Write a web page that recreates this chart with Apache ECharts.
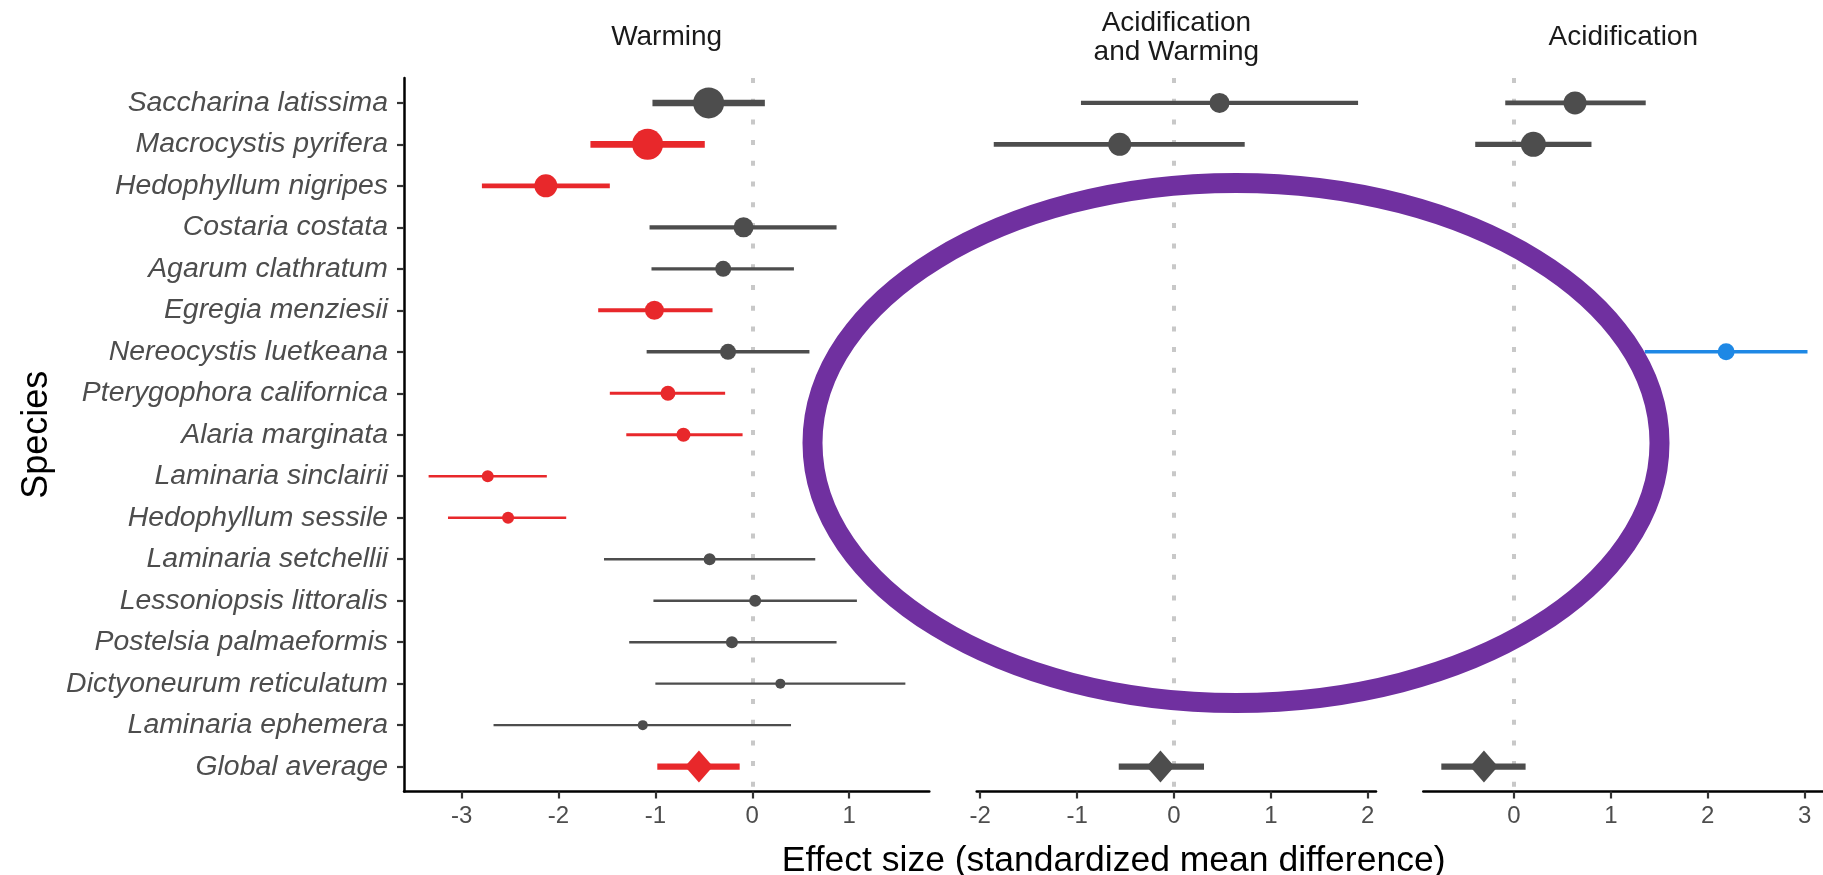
<!DOCTYPE html>
<html>
<head>
<meta charset="utf-8">
<title>Kelp responses to warming and acidification</title>
<script src="https://cdn.jsdelivr.net/npm/echarts@6/dist/echarts.min.js"></script>
<style>
  html, body { margin: 0; padding: 0; background: #ffffff; }
  #chart { width: 1823px; height: 875px; }
</style>
</head>
<body>
<div id="chart"></div>
<script>
// ---- Data -----------------------------------------------------------------
// Species, listed top to bottom; the last row is the pooled estimate.
const species = [
  'Saccharina latissima', 'Macrocystis pyrifera', 'Hedophyllum nigripes',
  'Costaria costata', 'Agarum clathratum', 'Egregia menziesii',
  'Nereocystis luetkeana', 'Pterygophora californica', 'Alaria marginata',
  'Laminaria sinclairii', 'Hedophyllum sessile', 'Laminaria setchellii',
  'Lessoniopsis littoralis', 'Postelsia palmaeformis',
  'Dictyoneurum reticulatum', 'Laminaria ephemera', 'Global average'
];

const panelTitles = ['Warming', 'Acidification\nand Warming', 'Acidification'];

// Warming: standardized mean difference with 95% confidence limits
const warmMean = [-0.45, -1.08, -2.13, -0.09, -0.30, -1.01, -0.25, -0.87, -0.71,
                  -2.73, -2.52, -0.44, 0.03, -0.21, 0.29, -1.13, -0.55];
const warmLow  = [-1.03, -1.67, -2.79, -1.06, -1.04, -1.59, -1.09, -1.47, -1.30,
                  -3.34, -3.14, -1.53, -1.02, -1.27, -1.00, -2.67, -0.98];
const warmHigh = [0.13, -0.49, -1.47, 0.87, 0.43, -0.41, 0.59, -0.28, -0.10,
                  -2.12, -1.92, 0.65, 1.08, 0.87, 1.58, 0.40, -0.13];

// Acidification and warming combined (three estimates)
const bothMean = [0.47, -0.56, null, null, null, null, null, null, null,
                  null, null, null, null, null, null, null, -0.14];
const bothLow  = [-0.96, -1.86, null, null, null, null, null, null, null,
                  null, null, null, null, null, null, null, -0.57];
const bothHigh = [1.90, 0.73, null, null, null, null, null, null, null,
                  null, null, null, null, null, null, null, 0.31];

// Acidification alone
const acidMean = [0.63, 0.20, null, null, null, null, 2.19, null, null,
                  null, null, null, null, null, null, null, -0.31];
const acidLow  = [-0.09, -0.40, null, null, null, null, 1.35, null, null,
                  null, null, null, null, null, null, null, -0.75];
const acidHigh = [1.36, 0.80, null, null, null, null, 3.03, null, null,
                  null, null, null, null, null, null, null, 0.12];

// Tick labels of the three x axes
const warmTicks = [-3, -2, -1, 0, 1];
const bothTicks = [-2, -1, 0, 1, 2];
const acidTicks = [0, 1, 2, 3];

// ---- Styling ----------------------------------------------------------------
// Marker diameters (px) follow each estimate's weight
const warmSize = [31, 31, 23, 20, 16, 19, 16, 15, 14, 12, 12, 12, 12, 12, 10, 10, 30];
const bothSize = [20, 23, 0, 0, 0, 0, 0, 0, 0, 0, 0, 0, 0, 0, 0, 0, 30];
const acidSize = [23, 25, 0, 0, 0, 0, 17, 0, 0, 0, 0, 0, 0, 0, 0, 0, 30];

const FONT = '"Liberation Sans", Arial, Helvetica, sans-serif';
const RED = '#E8282B', GREY = '#4D4D4D', BLUE = '#1E88E5';
const PURPLE = '#7030A0';

const TOP = 78, PLOT_H = 713.5;
const panels = [
  { left: 404,    width: 525.3, min: -3.594, max: 1.827, mean: warmMean, low: warmLow, high: warmHigh, size: warmSize, ticks: warmTicks },
  { left: 976.7,  width: 399.3, min: -2.036, max: 2.085, mean: bothMean, low: bothLow, high: bothHigh, size: bothSize, ticks: bothTicks },
  { left: 1423.3, width: 400,   min: -0.936, max: 3.19,  mean: acidMean, low: acidLow, high: acidHigh, size: acidSize, ticks: acidTicks }
];

const rowIdx = species.map((_, i) => i);
const lastRow = species.length - 1;

// significant decrease -> red, significant increase -> blue, otherwise grey
function effectColor(lo, hi) {
  if (hi < 0) return RED;
  if (lo > 0) return BLUE;
  return GREY;
}

function panelRows(p) {
  const rows = [];
  p.mean.forEach((m, i) => {
    if (m === null) return;
    rows.push({ row: i, mean: m, lo: p.low[i], hi: p.high[i], size: p.size[i],
                color: effectColor(p.low[i], p.high[i]) });
  });
  return rows;
}

const grids = [], xAxes = [], yAxes = [], series = [], graphics = [];

panels.forEach((p, k) => {
  grids.push({ left: p.left, top: TOP, width: p.width, height: PLOT_H, containLabel: false });

  xAxes.push({
    type: 'value', gridIndex: k, min: p.min, max: p.max,
    splitLine: { show: false },
    axisLine: { show: true, onZero: false, lineStyle: { color: '#000000', width: 2.5 } },
    axisTick: { show: true, length: 7, customValues: p.ticks, lineStyle: { color: '#333333', width: 2.2 } },
    axisLabel: {
      customValues: p.ticks, margin: 13, color: GREY, fontSize: 24, fontFamily: FONT,
      formatter: v => (v < 0 ? '-' + Math.abs(v) : String(v))
    }
  });

  yAxes.push({
    type: 'value', gridIndex: k, inverse: true, min: -0.6, max: lastRow + 0.6,
    show: k === 0,
    splitLine: { show: false },
    axisLine: { show: true, onZero: false, lineStyle: { color: '#000000', width: 2.5 } },
    axisTick: { show: true, length: 7, customValues: rowIdx, lineStyle: { color: '#333333', width: 2.2 } },
    axisLabel: {
      customValues: rowIdx, margin: 16, color: GREY, fontSize: 28.4, fontStyle: 'italic',
      fontFamily: FONT, formatter: v => species[Math.round(v)]
    }
  });

  // dotted reference line at zero effect, kept beneath the estimates
  series.push({
    type: 'line', xAxisIndex: k, yAxisIndex: k, data: [], z: 1, silent: true,
    markLine: {
      z: 1, silent: true, symbol: ['none', 'none'], label: { show: false }, animation: false,
      lineStyle: { color: '#C8C8C8', width: 4, type: [5, 15.7] },
      data: [{ xAxis: 0 }]
    }
  });

  const rows = panelRows(p);

  // confidence intervals
  series.push({
    type: 'custom', xAxisIndex: k, yAxisIndex: k, z: 2, silent: true,
    data: rows.map(r => [r.lo, r.hi, r.row]),
    encode: { x: [0, 1], y: 2 },
    renderItem(params, api) {
      const r = rows[params.dataIndex];
      const a = api.coord([api.value(0), api.value(2)]);
      const b = api.coord([api.value(1), api.value(2)]);
      return {
        type: 'line',
        shape: { x1: a[0], y1: a[1], x2: b[0], y2: b[1] },
        style: { stroke: r.color, lineWidth: Math.max(1.5, r.size * 0.21), lineCap: 'butt' }
      };
    }
  });

  // point estimates (diamond for the pooled estimate)
  series.push({
    type: 'scatter', xAxisIndex: k, yAxisIndex: k, z: 3, silent: true,
    data: rows.map(r => ({
      value: [r.mean, r.row],
      symbol: r.row === lastRow ? 'diamond' : 'circle',
      symbolSize: r.row === lastRow ? [r.size - 2, r.size + 2] : r.size,
      itemStyle: { color: r.color, opacity: 1 }
    }))
  });

  // facet strip title centred above the panel
  graphics.push({
    type: 'text', x: p.left + p.width / 2, y: 37.5, silent: true,
    style: { text: panelTitles[k], fill: '#1A1A1A', font: '28px ' + FONT,
             textAlign: 'center', textVerticalAlign: 'middle', lineHeight: 29 }
  });
});

// axis titles
graphics.push({
  type: 'text', x: panels[0].left + (panels[2].left + panels[2].width - panels[0].left) / 2, y: 861.5,
  silent: true,
  style: { text: 'Effect size (standardized mean difference)', fill: '#000000',
           font: '35.5px ' + FONT, textAlign: 'center', textVerticalAlign: 'middle' }
});
graphics.push({
  type: 'text', x: 37, y: TOP + PLOT_H / 2, rotation: Math.PI / 2, silent: true,
  style: { text: 'Species', fill: '#000000', font: '36px ' + FONT,
           textAlign: 'center', textVerticalAlign: 'middle' }
});

// highlight ring over the sparse combined-stressor columns
graphics.push({
  type: 'ellipse', silent: true, z: 100,
  shape: { cx: 1236, cy: 443, rx: 423.5, ry: 260 },
  style: { fill: 'none', stroke: PURPLE, lineWidth: 20 }
});

const chart = echarts.init(document.getElementById('chart'), null, { renderer: 'canvas' });
chart.setOption({
  animation: false,
  backgroundColor: '#ffffff',
  textStyle: { fontFamily: FONT },
  grid: grids,
  xAxis: xAxes,
  yAxis: yAxes,
  series: series,
  graphic: graphics
});
</script>
</body>
</html>
